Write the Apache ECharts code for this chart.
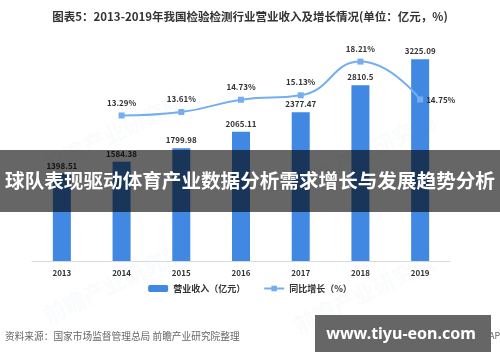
<!DOCTYPE html>
<html><head><meta charset="utf-8">
<script src="https://cdn.jsdelivr.net/npm/echarts@6/dist/echarts.min.js"></script>
<style>html,body{margin:0;padding:0;background:#fff}#c{width:500px;height:362px}</style>
</head><body><div id="c"></div>
<script>
var categories = ['2013','2014','2015','2016','2017','2018','2019'];
var revenue = [1398.51, 1584.38, 1799.98, 2065.11, 2377.47, 2810.5, 3225.09];
var growth = [null, 13.29, 13.61, 14.73, 15.13, 18.21, 14.75];
var seriesNames = ['营业收入（亿元）', '同比增长（%）'];
var titleText = '图表5：2013-2019年我国检验检测行业营业收入及增长情况(单位：亿元，%)';
var bannerText = '球队表现驱动体育产业数据分析需求增长与发展趋势分析';
var sourceText = '资料来源：国家市场监督管理总局 前瞻产业研究院整理';
var badgeText = 'www.tiyu-eon.com';

var chart = echarts.init(document.getElementById('c'), null, {renderer:'canvas'});
var font = '"Noto Sans CJK SC", "Liberation Sans", sans-serif';
var wm = [];
[[40,90],[290,110],[40,240],[290,250],[480,320]].forEach(function(p){
  wm.push({type:'text', left:p[0], top:p[1], rotation:Math.PI/7, z:0,
    style:{text:'前瞻产业研究院', fill:'rgba(215,222,230,0.12)', font:'bold 22px '+font}});
});
var growthData = growth.map(function(v, i){
  if (i === growth.length - 1) {
    return {value:v, label:{position:'right', distance:3}};
  }
  return v;
});
chart.setOption({
  animation:false,
  textStyle:{fontFamily:font},
  title:{text:titleText, left:'center', top:6,
    textStyle:{fontSize:11.5, fontWeight:'bold', color:'#333', fontFamily:font}},
  grid:{left:32, right:50, top:42, bottom:101},
  legend:{data:seriesNames, left:'center', top:279, itemGap:18, itemWidth:20, itemHeight:7,
    textStyle:{fontSize:9, fontWeight:'bold', color:'#333'}},
  xAxis:{type:'category', data:categories,
    axisLine:{lineStyle:{color:'#d9d9d9'}}, axisTick:{show:false},
    axisLabel:{fontSize:8, fontWeight:'bold', color:'#333', margin:8}},
  yAxis:[
    {type:'value', min:0, max:3500, show:false, splitLine:{show:false}},
    {type:'value', min:0, max:20, show:false, splitLine:{show:false}}
  ],
  series:[
    {name:seriesNames[0], type:'bar', data:revenue, barWidth:18, z:2,
      itemStyle:{color:'#4088e2'},
      label:{show:true, position:'top', fontSize:8, fontWeight:'bold', color:'#333', distance:4}},
    {name:seriesNames[1], type:'line', yAxisIndex:1, data:growthData, smooth:true, z:3,
      symbol:'rect', symbolSize:6,
      lineStyle:{color:'#75aef0', width:2}, itemStyle:{color:'#75aef0'},
      label:{show:true, position:'top', fontSize:8, fontWeight:'bold', color:'#333',
        formatter:function(p){return Number(p.value).toFixed(2)+'%';}, distance:6}
    }
  ],
  graphic: wm.concat([
    {type:'text', left:5, top:331, z:10,
      style:{text:sourceText, fill:'#666', font:'9.7px '+font}},
    {type:'text', left:489, top:331, z:10,
      style:{text:'APP', fill:'#666', font:'9px '+font}},
    {type:'rect', shape:{x:0, y:150, width:500, height:62}, z:100,
      style:{fill:'rgba(0,0,0,0.6)'}},
    {type:'text', x:250, y:181, z:101,
      style:{text:bannerText, fill:'#fff', font:'bold 19.6px '+font, textAlign:'center', textVerticalAlign:'middle'}},
    {type:'rect', shape:{x:315, y:315, width:176, height:37}, z:100,
      style:{fill:'#666'}},
    {type:'text', x:401, y:334, z:101,
      style:{text:badgeText, fill:'#fff', font:'bold 16px "Noto Sans", sans-serif', textAlign:'center', textVerticalAlign:'middle'}}
  ])
});
</script></body></html>
